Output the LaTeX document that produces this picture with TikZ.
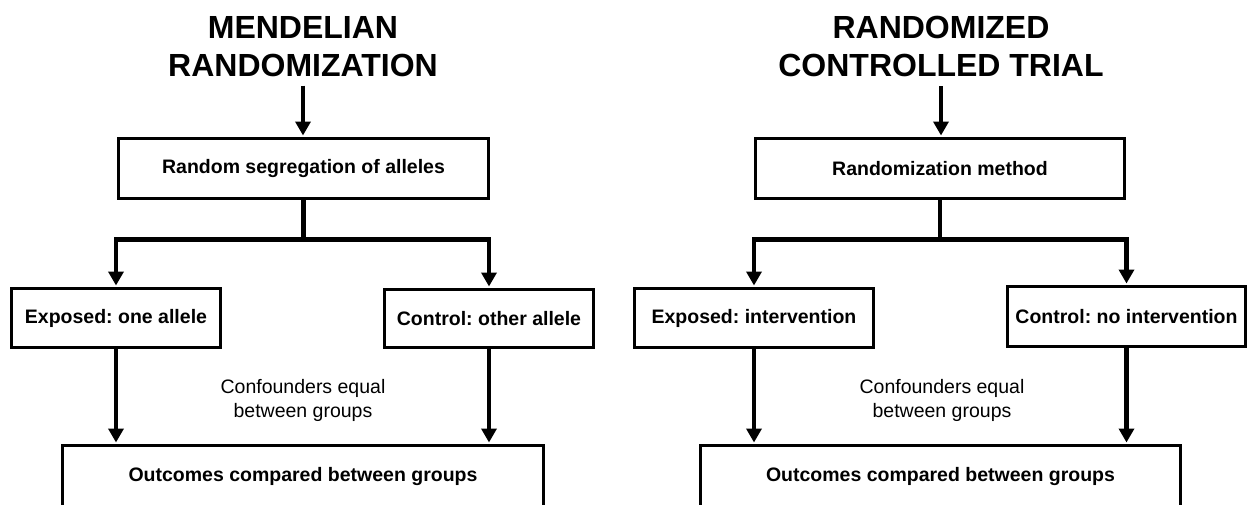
\documentclass[tikz,border=0pt]{standalone}
\usepackage{fontspec}
\setmainfont{Liberation Sans}
\usetikzlibrary{arrows.meta,calc}
\frenchspacing
\begin{document}
\begin{tikzpicture}[x=1pt,y=-1pt,
  title/.style={font=\bfseries\fontsize{32}{38}\selectfont, align=center, inner sep=0pt, anchor=north},
  box/.style={draw, line width=3pt, inner sep=0pt, font=\bfseries\fontsize{19.5}{23}\selectfont},
  note/.style={font=\fontsize{19.5}{24}\selectfont, align=center, inner sep=0pt},
  conn/.style={line width=4.5pt},
  arr/.style={conn, -{Triangle[length=14pt,width=15pt]}, shorten >=1.5pt},
  tarr/.style={line width=3.5pt, -{Triangle[length=14pt,width=15pt]}, shorten <=9pt, shorten >=1.5pt}
]
\useasboundingbox (0,0) rectangle (1256,504);
\clip (0,0) rectangle (1256,504);
\fill[white] (0,0) rectangle (1256,504);

% ---------- Left panel ----------
\node[title] (t1) at (303,16) {MENDELIAN\\RANDOMIZATION};
\node[box, minimum width=370pt, minimum height=60pt] (b1) at (303.5,168.5) {Random segregation of alleles};
\node[box, minimum width=209pt, minimum height=59pt] (e1) at (116,318) {Exposed: one allele};
\node[box, minimum width=209pt, minimum height=58pt] (c1) at (489,318.5) {Control: other allele};
\node[box, minimum width=481pt, minimum height=61pt] (o1) at (303,476) {Outcomes compared between groups};
\node[note] (f1) at (303,400) {Confounders equal\\between groups};
\coordinate (j1) at (303.5,239.5);

\draw[tarr] (t1.south) -- (t1.south |- b1.north);
\draw[conn] (b1.south) -- (j1);
\draw[arr] (j1) -| (e1.north);
\draw[arr] (j1) -| (c1.north);
\draw[arr] (e1.south) -- (e1.south |- o1.north);
\draw[arr] (c1.south) -- (c1.south |- o1.north);

% ---------- Right panel ----------
\node[title] (t2) at (941,16) {RANDOMIZED\\CONTROLLED TRIAL};
\node[box, minimum width=369pt, minimum height=60pt] (b2) at (940,168.5) {Randomization method};
\node[box, minimum width=239pt, minimum height=59pt] (e2) at (754,318) {Exposed: intervention};
\node[box, minimum width=238pt, minimum height=60pt] (c2) at (1126.5,316.5) {Control: no intervention};
\node[box, minimum width=480pt, minimum height=61pt] (o2) at (940.5,476) {Outcomes compared between groups};
\node[note] (f2) at (942,400) {Confounders equal\\between groups};
\coordinate (j2) at (940,239.5);

\draw[tarr] (t2.south) -- (t2.south |- b2.north);
\draw[conn] (b2.south) -- (j2);
\draw[arr] (j2) -| (e2.north);
\draw[arr] (j2) -| (c2.north);
\draw[arr] (e2.south) -- (e2.south |- o2.north);
\draw[arr] (c2.south) -- (c2.south |- o2.north);
\end{tikzpicture}
\end{document}
